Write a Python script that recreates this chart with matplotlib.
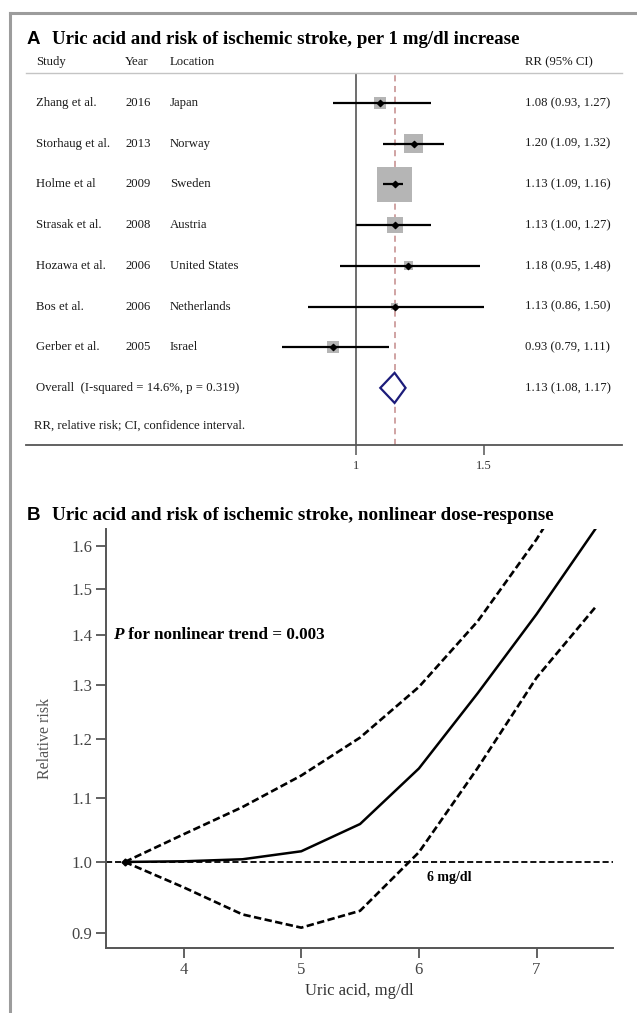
import numpy as np
import matplotlib
matplotlib.use("Agg")
import matplotlib.pyplot as plt
from matplotlib.patches import Polygon
from matplotlib.transforms import blended_transform_factory
from matplotlib.lines import Line2D

# ---------------- data: forest plot ----------------
studies = ["Zhang et al.", "Storhaug et al.", "Holme et al", "Strasak et al.",
           "Hozawa et al.", "Bos et al.", "Gerber et al."]
years = ["2016", "2013", "2009", "2008", "2006", "2006", "2005"]
locations = ["Japan", "Norway", "Sweden", "Austria", "United States",
             "Netherlands", "Israel"]
rr = [1.08, 1.20, 1.13, 1.13, 1.18, 1.13, 0.93]
rr_low = [0.93, 1.09, 1.09, 1.00, 0.95, 0.86, 0.79]
rr_high = [1.27, 1.32, 1.16, 1.27, 1.48, 1.50, 1.11]
weights = [6.4, 15.3, 54.7, 11.4, 3.6, 2.2, 6.4]
overall = 1.13
overall_low = 1.08
overall_high = 1.17
overall_label = "Overall  (I-squared = 14.6%, p = 0.319)"
forest_ticks = [1, 1.5]
forest_ticklabels = ["1", "1.5"]

# ---------------- data: dose-response ----------------
uric = [3.5, 4.0, 4.5, 5.0, 5.5, 6.0, 6.5, 7.0, 7.5]
rr_curve = [1.0, 1.001, 1.004, 1.016, 1.058, 1.149, 1.285, 1.445, 1.64]
rr_upper = [1.0, 1.042, 1.085, 1.137, 1.203, 1.297, 1.43, 1.615, 1.86]
rr_lower = [1.0, 0.963, 0.925, 0.907, 0.930, 1.0145, 1.15, 1.315, 1.46]
dr_yticks = [0.9, 1.0, 1.1, 1.2, 1.3, 1.4, 1.5, 1.6]
dr_xticks = [4, 5, 6, 7]

W, H = 637, 1013
fig = plt.figure(figsize=(W / 100, H / 100), dpi=100)
SERIF = "Liberation Serif"
SANS = "Liberation Sans"


def fx(px):
    return px / W


def fy(py):
    return 1 - py / H


# outer frame (top and left edges)
fig.add_artist(Line2D([fx(9.5), 1], [fy(13.5), fy(13.5)], color="#9c9c9c", lw=2.2,
                      transform=fig.transFigure))
fig.add_artist(Line2D([fx(9.5), fx(9.5)], [fy(13.5), 0], color="#9c9c9c", lw=2.2,
                      transform=fig.transFigure))

# ---------------- panel A ----------------
row_px0, row_step = 103, 40.7
top_px, bot_px = 73, 445
left_px, right_px = 26, 622
axA = fig.add_axes([fx(left_px), fy(bot_px), fx(right_px - left_px),
                    (bot_px - top_px) / H])
axA.set_xscale("log")
x1_px, scale = 356, 128 / np.log(1.5)
axA.set_xlim(np.exp((left_px - x1_px) / scale), np.exp((right_px - x1_px) / scale))
axA.set_ylim((bot_px - row_px0) / row_step, (top_px - row_px0) / row_step)
for s in ["left", "right"]:
    axA.spines[s].set_visible(False)
axA.spines["top"].set_color("#c4c4c4")
axA.spines["top"].set_linewidth(1.0)
axA.spines["bottom"].set_color("#555555")
axA.spines["bottom"].set_linewidth(1.3)
axA.set_yticks([])
axA.xaxis.set_minor_locator(matplotlib.ticker.NullLocator())
axA.set_xticks(forest_ticks)
axA.set_xticklabels(forest_ticklabels, fontfamily=SERIF, fontsize=9, color="#333333")
axA.tick_params(axis="x", length=7, width=1.1, color="#555555", pad=4)

axA.axvline(1, color="#555555", lw=1.2, zorder=1)
axA.axvline(overall, color="#c48a8a", lw=1.1, ls=(0, (4, 3)), zorder=1)

rows = np.arange(len(studies))
side_px = 4.73 * np.sqrt(np.array(weights))
axA.scatter(rr, rows, marker="s", s=(side_px * 0.72) ** 2, color="#b5b5b5",
            edgecolors="none", zorder=2)
axA.hlines(rows, rr_low, rr_high, color="black", lw=1.6, zorder=3)
axA.scatter(rr, rows, marker="D", s=10, color="black", zorder=4)

orow = len(studies)
diamond = Polygon([(overall_low, orow), (overall, orow - 0.37),
                   (overall_high, orow), (overall, orow + 0.37)],
                  closed=True, fc="white", ec="#1c1c7a", lw=1.6, zorder=3)
axA.add_patch(diamond)

tr = blended_transform_factory(fig.transFigure, axA.transData)
txt = dict(fontfamily=SERIF, fontsize=9.2, color="#1a1a1a", va="center",
           transform=tr, clip_on=False)
hdr_row = (62 - row_px0) / row_step
axA.text(fx(36), hdr_row, "Study", **txt)
axA.text(fx(125), hdr_row, "Year", **txt)
axA.text(fx(170), hdr_row, "Location", **txt)
axA.text(fx(525), hdr_row, "RR (95% CI)", **txt)
for i in rows:
    axA.text(fx(36), i, studies[i], **txt)
    axA.text(fx(125), i, years[i], **txt)
    axA.text(fx(170), i, locations[i], **txt)
    axA.text(fx(525), i, f"{rr[i]:.2f} ({rr_low[i]:.2f}, {rr_high[i]:.2f})", **txt)
axA.text(fx(36), orow, overall_label, **txt)
axA.text(fx(525), orow, f"{overall:.2f} ({overall_low:.2f}, {overall_high:.2f})", **txt)
axA.text(fx(34), (426 - row_px0) / row_step,
         "RR, relative risk; CI, confidence interval.", **txt)

fig.text(fx(27), fy(39), "A", fontfamily=SANS, fontweight="bold", fontsize=13.5,
         va="center", color="black")
fig.text(fx(52), fy(39), "Uric acid and risk of ischemic stroke, per 1 mg/dl increase",
         fontfamily=SERIF, fontweight="bold", fontsize=13.6, va="center", color="black")

# ---------------- panel B ----------------
b_left, b_right, b_top, b_bot = 106, 613, 529, 948
axB = fig.add_axes([fx(b_left), fy(b_bot), fx(b_right - b_left), (b_bot - b_top) / H])
axB.set_yscale("log")
axB.set_ylim(0.88, 1.64)
axB.set_xlim(3.34, 7.65)
for s in ["top", "right"]:
    axB.spines[s].set_visible(False)
for s in ["left", "bottom"]:
    axB.spines[s].set_color("#555555")
    axB.spines[s].set_linewidth(1.4)
axB.yaxis.set_minor_locator(matplotlib.ticker.NullLocator())
axB.set_yticks(dr_yticks)
axB.set_yticklabels([f"{v:.1f}" for v in dr_yticks], fontfamily=SERIF, fontsize=12,
                    color="#444444")
axB.set_xticks(dr_xticks)
axB.set_xticklabels([str(v) for v in dr_xticks], fontfamily=SERIF, fontsize=12,
                    color="#444444")
axB.tick_params(axis="both", length=7, width=1.3, color="#555555", pad=3)

axB.axhline(1.0, color="black", lw=1.3, ls=(0, (3.4, 1.6)), zorder=1)
axB.plot(uric, rr_upper, color="black", lw=1.9, ls=(0, (2.8, 1.3)), zorder=2)
axB.plot(uric, rr_lower, color="black", lw=1.9, ls=(0, (2.8, 1.3)), zorder=2)
axB.plot(uric, rr_curve, color="black", lw=1.8, zorder=3)
axB.plot([uric[0]], [rr_curve[0]], marker="D", ms=3.5, color="black", zorder=4)

axB.set_xlabel("Uric acid, mg/dl", fontfamily=SERIF, fontsize=12, color="#333333",
               labelpad=4)
axB.set_ylabel("Relative risk", fontfamily=SERIF, fontsize=11.5, color="#555555")
axB.yaxis.set_label_coords((53 - b_left) / (b_right - b_left), 0.5)

p_txt = axB.text(3.4, 1.4, "P", fontfamily=SERIF, fontweight="bold",
                 fontstyle="italic", fontsize=12.3, va="center", color="black")
axB.annotate(" for nonlinear trend = 0.003", xy=(1, 0.5), xycoords=p_txt,
             fontfamily=SERIF, fontweight="bold", fontsize=12.3, va="center",
             ha="left", color="black")
axB.text(6.26, 0.977, "6 mg/dl", fontfamily=SERIF, fontweight="bold", fontsize=10,
         ha="center", va="center", color="black")

fig.text(fx(27), fy(516), "B", fontfamily=SANS, fontweight="bold", fontsize=13.5,
         va="center", color="black")
fig.text(fx(52), fy(516), "Uric acid and risk of ischemic stroke, nonlinear dose-response",
         fontfamily=SERIF, fontweight="bold", fontsize=13.7, va="center", color="black")

fig.savefig("out.png", dpi=100)
